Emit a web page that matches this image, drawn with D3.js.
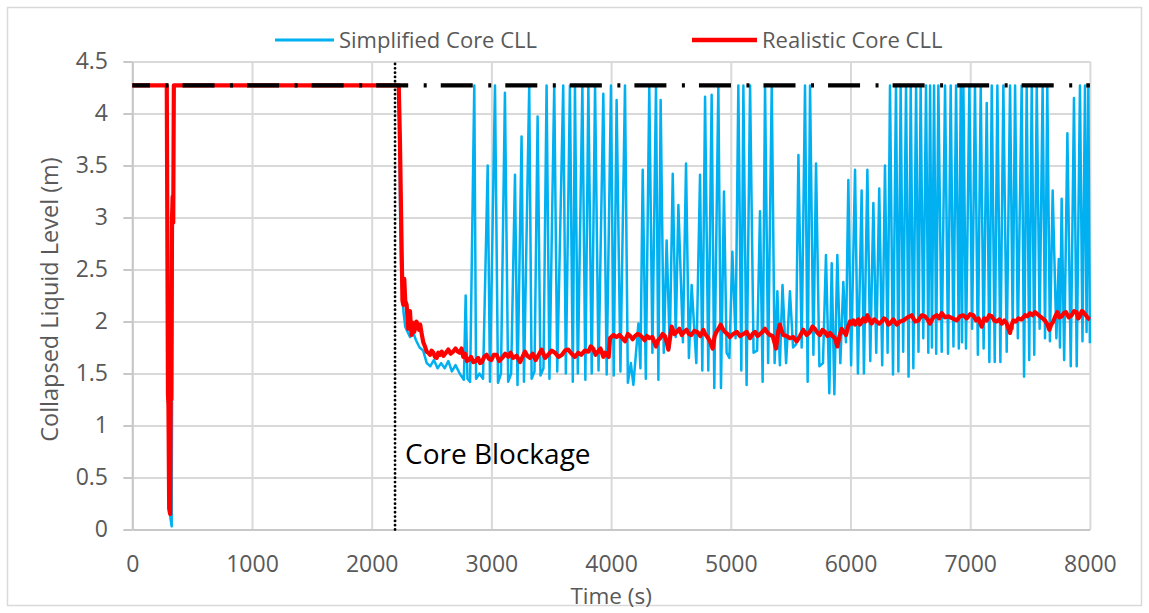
<!DOCTYPE html>
<html>
<head>
<meta charset="utf-8">
<script src="https://cdn.jsdelivr.net/npm/d3@7"></script>
<style>
  html, body { margin: 0; padding: 0; background: #fff; }
  svg { display: block; }
  text { font-family: "Open Sans", "Noto Sans", sans-serif; }
</style>
</head>
<body>
<svg id="chart" width="1149" height="613"></svg>
<script>
// ---- data ----
const xTicks = [0, 1000, 2000, 3000, 4000, 5000, 6000, 7000, 8000];
const yTicks = [0, 0.5, 1, 1.5, 2, 2.5, 3, 3.5, 4, 4.5];
const seriesNames = ["Simplified Core CLL", "Realistic Core CLL"];
const topLevel = 4.27;          // core top elevation (dash-dot reference)
const blockageTime = 2195;      // core blockage instant (s)
const blockageLabel = "Core Blockage";

// Simplified core collapsed liquid level [time (s), level (m)]
const simplifiedCLL = [
  [0,4.27],[288,4.27],[298,1.25],[306,0.9],[312,0.18],[320,0.1],[329,0.03],[333,1.6],[337,2.9],[341,3.1],[347,4.27],
  [2228,4.27],[2238,3.0],[2245,2.55],[2255,2.3],[2265,2.1],[2280,1.95],[2300,1.9],[2320,1.85],[2345,1.9],[2370,1.82],
  [2400,1.75],[2430,1.72],[2460,1.6],[2490,1.57],[2520,1.63],[2550,1.55],[2580,1.6],[2610,1.55],[2640,1.62],[2670,1.52],
  [2700,1.58],[2735,1.5],[2770,1.44],[2785,2.25],[2800,1.45],[2822,1.42],[2857,4.27],[2872,1.45],[2900,1.5],[2930,1.45],
  [2969,3.5],[2988,1.42],[3030,4.27],[3055,1.41],[3080,1.5],[3113,4.2],[3140,1.42],[3165,1.5],[3197,3.41],[3218,1.39],
  [3252,3.78],[3272,1.42],[3316,4.27],[3336,1.45],[3360,1.52],[3386,3.97],[3410,1.48],[3435,1.55],[3461,4.27],[3485,1.45],
  [3525,4.27],[3550,1.52],[3600,4.27],[3622,1.5],[3656,4.27],[3680,1.42],[3698,4.27],[3722,1.5],[3760,4.27],[3785,1.44],
  [3810,4.27],[3838,1.5],[3866,4.27],[3895,1.53],[3935,4.19],[3963,1.49],[3999,4.27],[4022,1.48],[4046,4.13],[4078,1.52],
  [4116,4.27],[4140,1.41],[4165,1.6],[4186,1.39],[4228,1.98],[4245,1.55],[4264,3.46],[4290,1.45],[4319,4.27],[4345,1.7],
  [4375,4.27],[4395,1.44],[4414,4.13],[4440,1.7],[4464,2.78],[4490,1.75],[4515,3.42],[4540,1.85],[4562,3.12],[4600,1.8],
  [4626,3.52],[4650,1.65],[4673,2.35],[4712,1.6],[4743,3.41],[4762,1.53],[4785,4.16],[4812,1.53],[4840,4.18],[4862,1.36],
  [4896,4.27],[4918,1.36],[4943,3.25],[4965,1.7],[4988,1.65],[5013,2.67],[5040,1.84],[5063,4.27],[5088,1.53],[5105,4.27],
  [5132,1.39],[5161,4.27],[5190,1.7],[5220,1.72],[5244,3.06],[5266,1.42],[5286,4.27],[5312,1.6],[5342,4.27],[5366,1.6],
  [5389,2.29],[5410,1.58],[5432,2.35],[5462,1.6],[5494,2.29],[5520,1.75],[5545,1.78],[5565,3.6],[5592,1.75],[5620,4.27],
  [5642,1.42],[5662,4.27],[5690,1.68],[5712,3.52],[5740,1.57],[5770,1.6],[5795,2.64],[5823,1.31],[5843,2.56],[5865,1.3],
  [5890,2.64],[5915,1.6],[5940,2.38],[5962,1.8],[5982,3.36],[6005,1.58],[6038,3.46],[6062,1.5],[6093,3.26],[6112,1.5],
  [6141,3.46],[6165,1.62],[6191,3.14],[6215,1.7],[6240,3.28],[6265,1.58],[6288,3.5],[6310,1.7],[6330,4.27],[6355,1.49],
  [6380,4.27],[6400,1.52],[6419,4.27],[6440,1.71],[6464,4.27],[6485,1.47],[6503,4.27],[6525,1.55],[6548,4.27],[6568,1.71],
  [6586,4.27],[6608,1.84],[6631,4.27],[6650,1.7],[6665,4.27],[6680,1.75],[6698,4.27],[6716,1.69],[6734,4.27],[6762,1.71],
  [6790,4.27],[6815,1.69],[6837,4.27],[6860,1.76],[6882,4.27],[6905,1.74],[6921,4.27],[6932,1.8],[6943,4.27],[6965,1.74],
  [6993,4.27],[7016,1.93],[7040,4.27],[7064,1.68],[7088,4.27],[7112,1.74],[7138,4.1],[7160,1.61],[7180,4.27],[7205,1.61],
  [7227,4.27],[7252,1.61],[7277,4.27],[7305,1.71],[7333,4.27],[7355,1.93],[7375,4.27],[7398,1.84],[7430,4.27],[7450,1.47],
  [7472,4.27],[7493,1.63],[7514,4.27],[7535,1.68],[7556,4.27],[7580,1.93],[7605,4.27],[7625,1.84],[7644,4.27],[7666,1.81],
  [7689,3.26],[7720,1.84],[7740,2.6],[7750,1.75],[7764,3.18],[7785,1.63],[7812,3.81],[7840,1.57],[7867,4.15],[7890,1.57],
  [7917,4.27],[7938,1.81],[7959,4.27],[7972,1.9],[7987,4.27],[8000,1.79]
];

// Realistic core collapsed liquid level [time (s), level (m)]
const realisticCLL = [
  [0,4.27],[288,4.27],[298,1.3],[302,1.2],[308,0.2],[316,0.15],[322,1.6],[326,1.25],[332,3.0],[337,3.2],[342,2.95],[347,4.27],
  [2226,4.27],[2236,3.73],[2250,2.7],[2257,2.2],[2264,2.16],[2272,2.41],[2280,2.2],[2292,2.16],[2300,2.02],[2306,1.93],[2313,2.05],[2320,2.1],
  [2327,1.95],[2334,1.87],[2341,1.99],[2348,1.98],[2355,1.9],[2362,1.93],[2373,2.0],[2385,1.97],[2395,1.92],[2405,1.97],[2418,1.88],[2431,1.8],
  [2445,1.76],[2459,1.71],[2473,1.7],[2487,1.68],[2500,1.72],[2515,1.7],[2528,1.66],[2543,1.65],[2556,1.7],
  [2570,1.68],[2585,1.71],[2600,1.67],[2620,1.7],[2640,1.73],[2660,1.69],[2680,1.71],[2700,1.74],[2720,1.71],[2735,1.7],[2751,1.74],[2765,1.66],[2780,1.69],
  [2795,1.62],[2810,1.63],[2830,1.66],[2849,1.61],[2870,1.62],[2890,1.65],
  [2905,1.6],[2920,1.61],[2940,1.66],[2960,1.68],[2980,1.64],[3000,1.63],[3020,1.68],[3044,1.68],[3065,1.62],[3090,1.65],[3115,1.69],[3141,1.66],[3160,1.7],[3180,1.65],[3210,1.67],[3239,1.61],[3260,1.66],[3280,1.71],[3300,1.67],[3322,1.65],
  [3345,1.69],[3370,1.63],[3395,1.68],[3420,1.73],[3448,1.65],[3475,1.68],[3503,1.72],[3531,1.7],[3560,1.66],[3590,1.68],[3615,1.72],[3642,1.73],[3670,1.69],[3698,1.66],[3725,1.7],[3750,1.68],[3780,1.72],[3810,1.71],[3830,1.76],[3850,1.74],
  [3870,1.68],[3890,1.71],[3912,1.74],[3935,1.66],[3950,1.7],[3965,1.68],[3980,1.66],[3991,1.84],[4020,1.87],[4045,1.85],[4070,1.87],[4095,1.84],[4116,1.81],[4140,1.88],[4160,1.86],[4180,1.83],[4200,1.86],[4220,1.88],[4240,1.87],
  [4260,1.85],[4280,1.82],[4300,1.86],[4320,1.84],[4345,1.85],[4375,1.76],[4392,1.82],[4410,1.84],[4430,1.88],[4450,1.86],[4465,1.8],[4478,1.73],[4506,1.95],[4528,1.88],[4550,1.9],[4570,1.93],[4590,1.87],[4610,1.9],[4630,1.92],
  [4650,1.88],[4670,1.87],[4695,1.91],[4720,1.9],[4745,1.86],[4771,1.92],[4785,1.88],[4806,1.85],[4826,1.81],[4848,1.74],[4865,1.86],[4880,1.9],[4898,1.93],[4915,1.97],[4932,1.93],[4950,1.9],[4972,1.88],[4993,1.85],
  [5020,1.88],[5050,1.9],[5078,1.86],[5105,1.88],[5133,1.9],[5161,1.84],[5182,1.88],[5203,1.9],[5224,1.86],[5244,1.88],[5265,1.9],[5286,1.93],[5307,1.89],[5328,1.87],[5350,1.86],[5378,1.74],[5395,1.9],[5410,1.97],[5425,1.91],[5438,1.87],
  [5466,1.86],[5494,1.84],[5522,1.85],[5550,1.81],[5578,1.86],[5606,1.92],[5634,1.87],[5662,1.9],[5682,1.95],[5703,1.93],[5724,1.89],[5745,1.87],[5766,1.92],[5787,1.9],[5808,1.86],[5829,1.89],[5850,1.86],[5870,1.84],[5890,1.76],
  [5908,1.86],[5926,1.93],[5944,1.9],[5962,1.87],[5980,1.95],[5996,2.0],[6010,1.98],[6024,2.01],[6038,1.97],[6052,2.0],[6066,2.02],[6080,1.97],[6094,2.0],[6107,2.03],[6124,2.0],[6141,2.06],[6160,2.01],[6177,1.98],[6198,2.02],[6219,2.0],
  [6240,1.98],[6260,2.0],[6281,2.03],[6302,2.01],[6316,1.97],[6330,1.98],[6358,2.02],[6386,1.97],[6414,2.0],[6441,2.01],[6476,2.04],[6511,2.06],[6540,2.0],[6567,2.01],[6595,2.06],[6622,2.05],[6643,2.02],[6664,1.98],[6692,2.04],[6720,2.06],
  [6741,2.03],[6762,2.08],[6790,2.04],[6818,2.05],[6852,2.03],[6887,2.01],[6915,2.05],[6943,2.06],[6971,2.03],[6999,2.07],[7027,2.06],[7048,2.01],[7069,2.03],[7096,1.95],[7117,2.03],[7138,2.01],[7159,2.06],[7180,2.05],[7201,2.01],
  [7222,2.0],[7243,2.02],[7264,1.98],[7285,2.01],[7305,1.98],[7320,1.93],[7333,1.89],[7347,1.97],[7361,2.01],[7382,2.0],[7403,2.03],[7430,2.02],[7458,2.06],[7479,2.05],[7500,2.08],[7520,2.06],[7541,2.09],[7562,2.07],[7583,2.05],
  [7604,2.03],[7625,2.01],[7645,1.97],[7661,1.92],[7677,1.97],[7694,2.0],[7711,2.05],[7728,2.09],[7746,2.04],[7764,2.05],[7782,2.08],[7800,2.09],[7823,2.04],[7847,2.06],[7868,2.1],[7889,2.09],[7903,2.03],[7917,2.05],[7931,2.1],[7945,2.09],
  [7966,2.06],[7987,2.03],[8000,2.02]
];

// ---- layout ----
const W = 1149, H = 613;
const plot = { left: 132.3, right: 1089.9, top: 61.5, bottom: 529.5 };
const blue = "#00b0f0", red = "#ff0000", grid = "#d9d9d9", labelGrey = "#595959";

const svg = d3.select("#chart");
svg.append("rect").attr("width", W).attr("height", H).attr("fill", "#fff");
svg.append("rect")
  .attr("x", 7.5).attr("y", 7.5).attr("width", 1134).attr("height", 598)
  .attr("fill", "none").attr("stroke", "#d9d9d9").attr("stroke-width", 1.5);

const x = d3.scaleLinear().domain([0, 8000]).range([plot.left, plot.right]);
const y = d3.scaleLinear().domain([0, 4.5]).range([plot.bottom, plot.top]);

// gridlines
svg.append("g")
  .attr("transform", `translate(0,${plot.bottom})`)
  .call(d3.axisBottom(x).tickValues(xTicks).tickSize(-(plot.bottom - plot.top)).tickFormat(""))
  .call(g => g.select(".domain").remove())
  .call(g => g.selectAll("line").attr("stroke", grid).attr("stroke-width", 2));
svg.append("g")
  .attr("transform", `translate(${plot.left},0)`)
  .call(d3.axisLeft(y).tickValues(yTicks).tickSize(-(plot.right - plot.left)).tickFormat(""))
  .call(g => g.select(".domain").remove())
  .call(g => g.selectAll("line").attr("stroke", grid).attr("stroke-width", 2));

// axes with labels
const fmt = d3.format("~g");
svg.append("g")
  .attr("transform", `translate(${plot.left},0)`)
  .call(d3.axisLeft(y).tickValues(yTicks).tickSize(9).tickSizeOuter(0).tickPadding(15.3).tickFormat(fmt))
  .call(g => g.select(".domain").attr("stroke", "#c8c8c8").attr("stroke-width", 2))
  .call(g => g.selectAll(".tick line").attr("stroke", "#c8c8c8").attr("stroke-width", 2))
  .call(g => g.selectAll("text").attr("fill", labelGrey).attr("font-size", 23)
      .attr("font-family", '"Open Sans", sans-serif'));
svg.append("g")
  .attr("transform", `translate(0,${plot.bottom})`)
  .call(d3.axisBottom(x).tickValues(xTicks).tickSize(0).tickSizeOuter(0).tickPadding(26.5).tickFormat(fmt))
  .call(g => g.select(".domain").attr("stroke", "#c8c8c8").attr("stroke-width", 2))
  .call(g => g.selectAll("text").attr("fill", labelGrey).attr("font-size", 23)
      .attr("font-family", '"Open Sans", sans-serif'));

// series
const line = d3.line().x(d => x(d[0])).y(d => y(d[1]));
svg.append("path").datum(simplifiedCLL)
  .attr("d", line).attr("fill", "none").attr("stroke", blue)
  .attr("stroke-width", 2.5).attr("stroke-linejoin", "round");
svg.append("path").datum(realisticCLL)
  .attr("d", line).attr("fill", "none").attr("stroke", red)
  .attr("stroke-width", 4.2).attr("stroke-linejoin", "round");

// core top reference (dash-dot)
svg.append("path").datum([[0, topLevel], [8000, topLevel]])
  .attr("d", line).attr("fill", "none").attr("stroke", "#000")
  .attr("stroke-width", 4.2)
  .attr("stroke-dasharray", "32,15.5,3,14.05").attr("stroke-dashoffset", 14.3);

// blockage marker (dotted)
svg.append("path").datum([[blockageTime, 0], [blockageTime, 4.5]])
  .attr("d", line).attr("fill", "none").attr("stroke", "#000")
  .attr("stroke-width", 2.8).attr("stroke-linecap", "round")
  .attr("stroke-dasharray", "0.01,4.3");

svg.append("text")
  .attr("x", x(blockageTime) + 10).attr("y", 464)
  .attr("font-size", 28).attr("fill", "#000")
  .text(blockageLabel);

// axis titles
svg.append("text")
  .attr("transform", `translate(49,${(plot.top + plot.bottom) / 2 + 4}) rotate(-90)`)
  .attr("text-anchor", "middle").attr("dominant-baseline", "central")
  .attr("font-size", 23.5).attr("fill", labelGrey)
  .text("Collapsed Liquid Level (m)");
svg.append("text")
  .attr("x", (plot.left + plot.right) / 2).attr("y", 604)
  .attr("text-anchor", "middle")
  .attr("font-size", 22.5).attr("fill", labelGrey)
  .text("Time (s)");

// legend
const legend = [
  { name: seriesNames[0], color: blue, width: 2.8, x0: 275, x1: 334, tx: 339 },
  { name: seriesNames[1], color: red, width: 4.5, x0: 692, x1: 757, tx: 762 }
];
const lg = svg.append("g");
legend.forEach(l => {
  lg.append("line").attr("x1", l.x0).attr("x2", l.x1).attr("y1", 40).attr("y2", 40)
    .attr("stroke", l.color).attr("stroke-width", l.width);
  lg.append("text").attr("x", l.tx).attr("y", 47.5)
    .attr("font-size", 22).attr("fill", labelGrey).text(l.name);
});
</script>
</body>
</html>
